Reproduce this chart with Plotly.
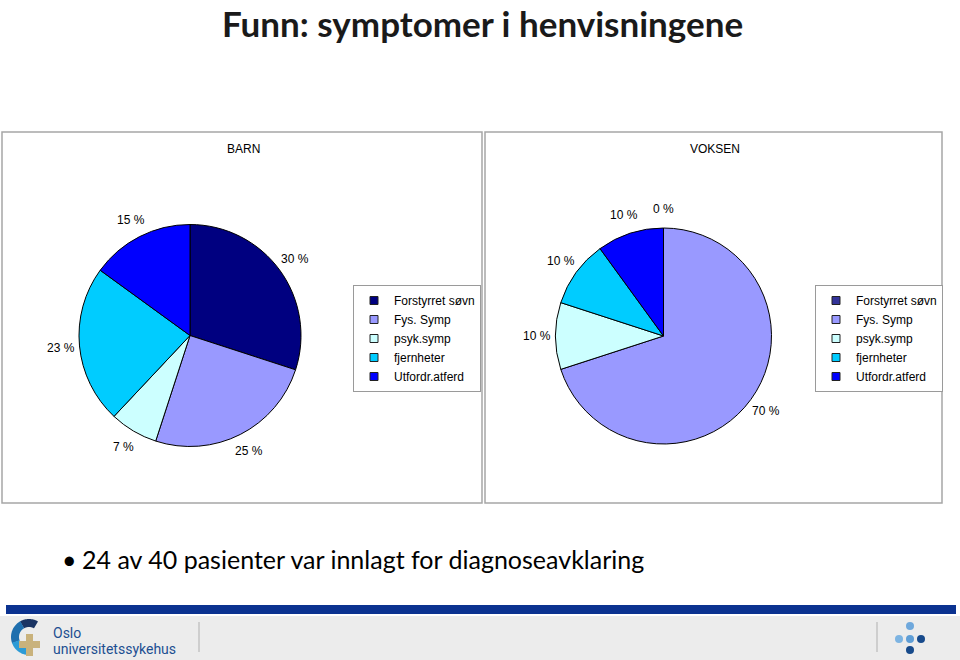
import numpy as np
import plotly.graph_objects as go

W, H = 960, 660

categories = ["Forstyrret søvn", "Fys. Symp", "psyk.symp", "fjernheter", "Utfordr.atferd"]
barn_values = [30, 25, 7, 23, 15]
voksen_values = [0, 70, 10, 10, 10]
barn_colors = ["#000080", "#9999FF", "#CCFFFF", "#00CCFF", "#0000FF"]
voksen_colors = ["#333399", "#9999FF", "#CCFFFF", "#00CCFF", "#0000FF"]
panel_titles = ["BARN", "VOKSEN"]
title_text = "Funn: symptomer i henvisningene"
bullet_text = "24 av 40 pasienter var innlagt for diagnoseavklaring"


def px(x):
    return x / W


def py(y):
    return 1 - y / H


# pie geometry in pixels (center x, center y, radius)
pies = [
    dict(values=barn_values, colors=barn_colors, cx=190, cy=335.5, r=111, legend="legend"),
    dict(values=voksen_values, colors=voksen_colors, cx=663.5, cy=336, r=108, legend="legend2"),
]

fig = go.Figure()
annotations = []

for p in pies:
    cx, cy, r = p["cx"], p["cy"], p["r"]
    fig.add_trace(go.Pie(
        labels=categories,
        values=p["values"],
        sort=False,
        direction="clockwise",
        rotation=0,
        textinfo="none",
        hoverinfo="label+value",
        marker=dict(colors=p["colors"], line=dict(color="#000000", width=1)),
        domain=dict(x=[px(cx - r), px(cx + r)], y=[py(cy + r), py(cy - r)]),
        showlegend=False,
    ))
    # legend entries (one legend box per pie)
    for cat, col in zip(categories, p["colors"]):
        fig.add_trace(go.Scatter(
            x=[None], y=[None], mode="markers", name=cat,
            marker=dict(symbol="square", size=8, color=col, line=dict(color="#222222", width=1)),
            legend=p["legend"], showlegend=True, hoverinfo="skip",
        ))
    vals = np.array(p["values"], dtype=float)
    cum = np.cumsum(vals)
    start = cum - vals
    mids = (start + vals / 2) / vals.sum() * 360.0
    R = r + 19
    for v, a in zip(p["values"], mids):
        rad = np.deg2rad(a)
        lx = cx + R * np.sin(rad)
        ly = cy - R * np.cos(rad)
        annotations.append(dict(
            x=px(lx), y=py(ly), xref="paper", yref="paper",
            text=f"{v} %", showarrow=False, xanchor="center", yanchor="middle",
            font=dict(family="Liberation Sans, Arial", size=12, color="#000000"),
        ))

# panel titles
for t, x in zip(panel_titles, [243, 715]):
    annotations.append(dict(
        x=px(x), y=py(149), xref="paper", yref="paper", text=t, showarrow=False,
        xanchor="center", yanchor="middle",
        font=dict(family="Liberation Sans, Arial", size=12, color="#000000"),
    ))

# slide title
annotations.append(dict(
    x=px(482), y=1, xref="paper", yref="paper", text=f"<b>{title_text}</b>",
    showarrow=False, xanchor="center", yanchor="top",
    font=dict(family="Lato", size=35, color="#1a1a1a"),
))

# bullet
annotations.append(dict(
    x=px(60), y=py(559), xref="paper", yref="paper", text="•", showarrow=False,
    xanchor="left", yanchor="middle",
    font=dict(family="Lato", size=25, color="#000000"),
))
annotations.append(dict(
    x=px(80), y=py(559), xref="paper", yref="paper", text=bullet_text, showarrow=False,
    xanchor="left", yanchor="middle",
    font=dict(family="Lato", size=25, color="#000000"),
))

# footer logo text
annotations.append(dict(
    x=px(51), y=py(633), xref="paper", yref="paper", text="Oslo",
    showarrow=False, xanchor="left", yanchor="middle", align="left",
    font=dict(family="Roboto", size=14, color="#1d4f91"),
))
annotations.append(dict(
    x=px(51), y=py(649), xref="paper", yref="paper", text="universitetssykehus",
    showarrow=False, xanchor="left", yanchor="middle", align="left",
    font=dict(family="Roboto", size=14, color="#1d4f91"),
))

shapes = []
# panels
for x0, x1 in [(2, 482), (485, 942)]:
    shapes.append(dict(type="rect", xref="paper", yref="paper",
                       x0=px(x0), x1=px(x1), y0=py(503), y1=py(132),
                       line=dict(color="#a6a6a6", width=1.5), fillcolor="rgba(0,0,0,0)", layer="below"))
# footer
shapes.append(dict(type="rect", xref="paper", yref="paper", x0=px(6), x1=px(956), y0=py(614), y1=py(605),
                   line=dict(width=0), fillcolor="#0b3290"))
shapes.append(dict(type="rect", xref="paper", yref="paper", x0=0, x1=1, y0=0, y1=py(616),
                   line=dict(width=0), fillcolor="#ececec"))
shapes.append(dict(type="line", xref="paper", yref="paper", x0=px(199), x1=px(199), y0=py(652), y1=py(622),
                   line=dict(color="#b0b0b0", width=1)))
shapes.append(dict(type="line", xref="paper", yref="paper", x0=px(877), x1=px(877), y0=py(652), y1=py(622),
                   line=dict(color="#b0b0b0", width=1)))


def ring_path(cx, cy, ro, ri, a0, a1, n=40):
    a = np.deg2rad(np.linspace(a0, a1, n))
    outer = [(px(cx + ro * np.cos(t)), py(cy - ro * np.sin(t))) for t in a]
    inner = [(px(cx + ri * np.cos(t)), py(cy - ri * np.sin(t))) for t in a[::-1]]
    pts = outer + inner
    return "M " + " L ".join(f"{x:.5f},{y:.5f}" for x, y in pts) + " Z"


shapes.append(dict(type="path", xref="paper", yref="paper", path=ring_path(29, 637, 18, 10, 60, 120),
                   fillcolor="#1b3564", line=dict(width=0)))
shapes.append(dict(type="path", xref="paper", yref="paper", path=ring_path(29, 637, 18, 10, 119, 200),
                   fillcolor="#1f6fae", line=dict(width=0)))
shapes.append(dict(type="path", xref="paper", yref="paper", path=ring_path(29, 637, 18, 10, 199, 275),
                   fillcolor="#2c9bd6", line=dict(width=0)))
# gold cross
shapes.append(dict(type="rect", xref="paper", yref="paper", x0=px(26), x1=px(33), y0=py(656), y1=py(634),
                   fillcolor="#c9b27c", line=dict(width=0)))
shapes.append(dict(type="rect", xref="paper", yref="paper", x0=px(19), x1=px(40), y0=py(648), y1=py(641),
                   fillcolor="#c9b27c", line=dict(width=0)))
# dots
for (dx, dy, c) in [(910, 626, "#6fa8dc"), (899, 639, "#7db4e2"), (910, 639, "#5f9ed6"),
                    (921, 639, "#174a8b"), (910, 650, "#174a8b")]:
    shapes.append(dict(type="circle", xref="paper", yref="paper",
                       x0=px(dx - 4), x1=px(dx + 4), y0=py(dy + 4), y1=py(dy - 4),
                       fillcolor=c, line=dict(width=0)))

legend_style = dict(
    bgcolor="#ffffff", bordercolor="#9a9a9a", borderwidth=1,
    font=dict(family="Liberation Sans, Arial", size=12, color="#000000"),
    xanchor="left", yanchor="top", itemclick=False, itemdoubleclick=False,
    traceorder="normal", itemwidth=30,
)

fig.update_layout(
    width=W, height=H,
    margin=dict(l=0, r=0, t=0, b=0),
    paper_bgcolor="#ffffff",
    plot_bgcolor="#ffffff",
    xaxis=dict(visible=False),
    yaxis=dict(visible=False),
    annotations=annotations,
    shapes=shapes,
    legend=dict(x=px(353), y=py(285), **legend_style),
    legend2=dict(x=px(815), y=py(285), **legend_style),
)

fig.write_html("out.html")
